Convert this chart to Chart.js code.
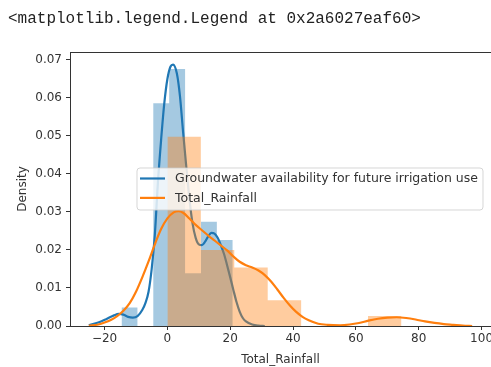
<!DOCTYPE html>
<html><head><meta charset="utf-8">
<script src="https://cdn.jsdelivr.net/npm/chart.js@4/dist/chart.umd.min.js"></script>
<style>
html,body{margin:0;padding:0;background:#fff;}
#wrap{position:relative;width:491px;height:367px;overflow:hidden;background:#fff;}
#out{position:absolute;left:8px;top:8px;font-family:"Liberation Mono","DejaVu Sans Mono",monospace;font-size:16px;color:#222;white-space:pre;line-height:22px;}
canvas{position:absolute;left:0;top:0;}
</style></head><body>
<div id="wrap"><canvas id="c" width="491" height="367"></canvas><div id="out">&lt;matplotlib.legend.Legend at 0x2a6027eaf60&gt;</div></div>
<script>
// ---- data ----
const xTicks = [-20, 0, 20, 40, 60, 80, 100];
const yTicks = [0, 0.01, 0.02, 0.03, 0.04, 0.05, 0.06, 0.07];
const seriesLabels = ['Groundwater availability for future irrigation use', 'Total_Rainfall'];

const blueEdges = [-14.6, -9.54, -4.49, 0.57, 5.63, 10.69, 15.74, 20.8];
const blueHeights = [0.0049, 0, 0.0586, 0.0676, 0.0139, 0.0274, 0.0226];
const orangeEdges = [0, 10.64, 21.29, 31.93, 42.57, 53.21, 63.86, 74.5];
const orangeHeights = [0.0498, 0.0200, 0.0154, 0.0068, 0, 0, 0.0026];

const blueKdeX = [-25,-22,-19.5,-17,-15.5,-14,-12.5,-11,-9.5,-8,-7,-6,-5,-4,-3,-2,-1,0,1,1.8,3,4,5,6,7,8,9,10,11,12,13,14,15,16,17,18,19,20,21,22,23,24,25,27,29,31];
const blueKdeY = [0.0002,0.0009,0.0018,0.0028,0.0032,0.0030,0.0024,0.0022,0.0026,0.0042,0.0060,0.0090,0.0150,0.0240,0.0380,0.0490,0.0585,0.0650,0.0683,0.0688,0.0665,0.0605,0.0510,0.0420,0.0335,0.0270,0.0232,0.0215,0.0213,0.0222,0.0236,0.0245,0.0243,0.0232,0.0213,0.0190,0.0160,0.0128,0.0095,0.0063,0.0038,0.0021,0.0012,0.0004,0.0001,0.0000];
const orangeKdeX = [-25,-22,-20,-18,-16,-14,-12,-10,-8,-6,-4,-2,0,2,3.5,5,7,9,11,13,15,17,19,21,23,25,27,29,31,33,35,37,39,41,43,45,48,51,55,58,61,64,67,70,73,76,79,82,85,88,91,94,97];
const orangeKdeY = [0.0001,0.0004,0.0009,0.0016,0.0026,0.0040,0.0060,0.0090,0.0128,0.0170,0.0215,0.0255,0.0283,0.0299,0.0302,0.0298,0.0283,0.0266,0.0252,0.0238,0.0225,0.0212,0.0199,0.0183,0.0169,0.0160,0.0154,0.0146,0.0134,0.0117,0.0096,0.0074,0.0054,0.0037,0.0024,0.0015,0.0006,0.0003,0.0002,0.0004,0.0008,0.0014,0.0019,0.0022,0.0023,0.0021,0.0017,0.0012,0.0008,0.0005,0.0003,0.0001,0.0000];

// ---- helpers ----
function histPoints(edges, h) {
  const pts = h.map((v, i) => ({x: edges[i], y: v}));
  pts.push({x: edges[edges.length - 1], y: 0});
  return pts;
}
function kdePoints(xs, ys) { return xs.map((x, i) => ({x: x, y: ys[i]})); }

const BLUE = '#1f77b4', ORANGE = '#ff7f0e';
const FONT = {family: '"DejaVu Sans", sans-serif', size: 12};
const TXT = '#333';

const spinePlugin = {
  id: 'topSpine',
  afterDatasetsDraw(chart) {
    const {ctx, chartArea: a} = chart;
    ctx.save();
    ctx.strokeStyle = '#333'; ctx.lineWidth = 1;
    ctx.beginPath(); ctx.moveTo(a.left, a.top + 0.5); ctx.lineTo(a.right, a.top + 0.5); ctx.stroke();
    ctx.restore();
  }
};

const legendPlugin = {
  id: 'mplLegend',
  afterDraw(chart) {
    const ctx = chart.ctx;
    const items = chart.data.datasets.filter(d => d.isKde);
    ctx.save();
    ctx.font = '12.5px "DejaVu Sans", sans-serif';
    const x0 = 137, y0 = 168, rowH = 19.4;
    const maxW = Math.max(...items.map(d => ctx.measureText(d.label).width));
    const w = 38 + maxW + 5, h = 42, r = 3;
    ctx.beginPath();
    ctx.moveTo(x0 + r, y0); ctx.lineTo(x0 + w - r, y0); ctx.quadraticCurveTo(x0 + w, y0, x0 + w, y0 + r);
    ctx.lineTo(x0 + w, y0 + h - r); ctx.quadraticCurveTo(x0 + w, y0 + h, x0 + w - r, y0 + h);
    ctx.lineTo(x0 + r, y0 + h); ctx.quadraticCurveTo(x0, y0 + h, x0, y0 + h - r);
    ctx.lineTo(x0, y0 + r); ctx.quadraticCurveTo(x0, y0, x0 + r, y0);
    ctx.closePath();
    ctx.fillStyle = 'rgba(255,255,255,0.8)'; ctx.fill();
    ctx.strokeStyle = 'rgba(204,204,204,0.8)'; ctx.lineWidth = 1; ctx.stroke();
    items.forEach((d, i) => {
      const y = y0 + 10.5 + i * rowH;
      ctx.strokeStyle = d.borderColor; ctx.lineWidth = 2.2;
      ctx.beginPath(); ctx.moveTo(x0 + 3, y); ctx.lineTo(x0 + 28, y); ctx.stroke();
      ctx.fillStyle = TXT; ctx.textBaseline = 'middle'; ctx.textAlign = 'left';
      ctx.fillText(d.label, x0 + 38, y + 0.5);
    });
    ctx.restore();
  }
};

new Chart(document.getElementById('c'), {
  type: 'line',
  data: {
    datasets: [
      {label: 'hist0', data: histPoints(blueEdges, blueHeights), stepped: 'before', fill: 'origin',
       backgroundColor: 'rgba(31,119,180,0.4)', borderColor: 'transparent', borderWidth: 0, pointRadius: 0, order: 4},
      {label: seriesLabels[0], isKde: true, data: kdePoints(blueKdeX, blueKdeY), borderColor: BLUE, borderWidth: 2.2,
       fill: false, pointRadius: 0, cubicInterpolationMode: 'monotone', order: 3},
      {label: 'hist1', data: histPoints(orangeEdges, orangeHeights), stepped: 'before', fill: 'origin',
       backgroundColor: 'rgba(255,127,14,0.4)', borderColor: 'transparent', borderWidth: 0, pointRadius: 0, order: 2},
      {label: seriesLabels[1], isKde: true, data: kdePoints(orangeKdeX, orangeKdeY), borderColor: ORANGE, borderWidth: 2.2,
       fill: false, pointRadius: 0, cubicInterpolationMode: 'monotone', order: 1}
    ]
  },
  options: {
    responsive: false, animation: false, devicePixelRatio: 1,
    layout: {padding: {top: 52, left: 0, right: 0, bottom: 0}},
    plugins: {legend: {display: false}, tooltip: {enabled: false}},
    events: [],
    scales: {
      x: {
        type: 'linear', min: -31, max: 103,
        afterBuildTicks: s => { s.ticks = xTicks.map(v => ({value: v})); },
        afterFit: s => { s.height = 41; s.paddingLeft = 0; s.paddingRight = 0; },
        grid: {display: true, drawOnChartArea: false, drawTicks: true, tickLength: 4, color: '#333', lineWidth: 1},
        border: {display: true, color: '#333', width: 1},
        ticks: {padding: 2, color: TXT, font: FONT, maxRotation: 0, autoSkip: false,
                callback: v => v < 0 ? '\u2212' + Math.abs(v) : String(v)},
        title: {display: true, text: 'Total_Rainfall', color: TXT, font: FONT, padding: {top: 0, bottom: 0}}
      },
      y: {
        type: 'linear', min: 0, max: 0.0721,
        afterBuildTicks: s => { s.ticks = yTicks.map(v => ({value: v})); },
        afterFit: s => { s.width = 70; s.paddingTop = 0; s.paddingBottom = 0; },
        grid: {display: true, drawOnChartArea: false, drawTicks: true, tickLength: 4, color: '#333', lineWidth: 1},
        border: {display: true, color: '#333', width: 1},
        ticks: {padding: 4, color: TXT, font: FONT, autoSkip: false, callback: v => Number(v).toFixed(2)},
        title: {display: true, text: 'Density', color: TXT, font: FONT, padding: {top: 15.5, bottom: 0}}
      }
    }
  },
  plugins: [spinePlugin, legendPlugin]
});
</script>
</body></html>
